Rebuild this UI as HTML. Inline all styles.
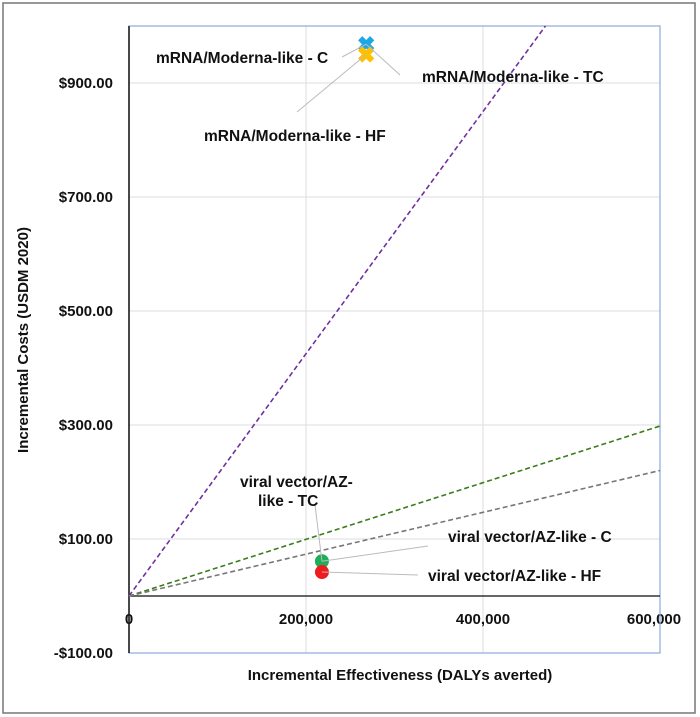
<!DOCTYPE html>
<html><head><meta charset="utf-8"><style>
body{margin:0;background:#fff;}
svg{display:block;font-family:"Liberation Sans",sans-serif;}
.t{font-weight:bold;font-size:15px;fill:#111;}
.p{font-weight:bold;font-size:15.5px;fill:#111;}
</style></head><body>
<svg id="c" width="700" height="717">
<rect x="3" y="3" width="692" height="710" fill="#fff" stroke="#777" stroke-width="1.5"/>
<g id="grid"></g><g id="lines"></g><g id="marks"></g><g id="labels"></g>
<text x="400" y="680" text-anchor="middle" class="t">Incremental Effectiveness (DALYs averted)</text>
<text transform="translate(28,340) rotate(-90)" text-anchor="middle" class="t">Incremental Costs (USDM 2020)</text>
</svg>
<script>
const xTicks=[0,200000,400000,600000];
const xTickLabels=["0","200,000","400,000","600,000"];
const yTicks=[-100,100,300,500,700,900];
const yTickLabels=["-$100.00","$100.00","$300.00","$500.00","$700.00","$900.00"];
const thresholdNames=["purple-threshold","green-threshold","gray-threshold"];
const thresholdSlopes=[0.002125,0.000497,0.000367];
const thresholdColors=["#7030a0","#3a7d1a","#777"];
const pointNames=["mRNA/Moderna-like - C","mRNA/Moderna-like - HF","viral vector/AZ-like - C","viral vector/AZ-like - HF"];
const pointX=[268000,268000,218000,218000];
const pointY=[968,950,61,42];
const pointColors=["#1ca8e6","#ffc000","#1fae5a","#ee1c1c"];
const pointShapes=["x","x","o","o"];
const L=129,R=660,T=26,B=653;
const xs=v=>L+v/600000*(R-L);
const ys=v=>B-(v+100)/1100*(B-T);
const NS="http://www.w3.org/2000/svg";
function mk(p,tag,a){const e=document.createElementNS(NS,tag);for(const k in a)e.setAttribute(k,a[k]);p.appendChild(e);return e;}
const g=document.getElementById('grid');
xTicks.forEach((v,i)=>{if(v>0&&v<600000){const l=mk(g,'line',{x1:xs(v),x2:xs(v),y1:T,y2:B,stroke:'#ddd'});}
const t=mk(g,'text',{x:xs(v)+(i==3?-6:0),y:ys(0)+28,'text-anchor':'middle','class':'t'});t.textContent=xTickLabels[i];
});
yTicks.forEach((v,i)=>{if(v>-100){const l=mk(g,'line',{x1:L,x2:R,y1:ys(v),y2:ys(v),stroke:'#ddd'});}
const t=mk(g,'text',{x:L-16,y:ys(v)+5,'text-anchor':'end','class':'t'});t.textContent=yTickLabels[i];
});
const pa=mk(g,'rect',{x:L,y:T,width:R-L,height:B-T,fill:'none',stroke:'#8eaadb','stroke-width':1.2});

const ya=mk(g,'line',{x1:L,x2:L,y1:T,y2:B,stroke:'#111','stroke-width':1.5});

const xa=mk(g,'line',{x1:L,x2:R,y1:ys(0),y2:ys(0),stroke:'#333','stroke-width':1.5});

const lg=document.getElementById('lines');
thresholdSlopes.forEach((s,i)=>{let x2=600000,y2=s*600000;if(y2>1000){y2=1000;x2=1000/s;}
const l=mk(lg,'line',{x1:xs(0),y1:ys(0),x2:xs(x2),y2:ys(y2),stroke:thresholdColors[i],'stroke-width':1.6,'stroke-dasharray':'5,3'});
});
const lb=document.getElementById('labels');
const leaders=[[342,57],[400,75],[297,112],[315,505],[428,546],[418,575]];
const leaderPt=[0,0,1,2,2,3];
leaders.forEach((d,i)=>{const p=leaderPt[i];const l=mk(lb,'line',{x1:d[0],y1:d[1],x2:xs(pointX[p]),y2:ys(pointY[p]),stroke:'#bbb','stroke-width':1});
});
const texts=[["mRNA/Moderna-like - C",156,63],["mRNA/Moderna-like - TC",422,82],["mRNA/Moderna-like - HF",204,141],["viral vector/AZ-",240,487],["like - TC",258,506],["viral vector/AZ-like - C",448,542],["viral vector/AZ-like - HF",428,581]];
texts.forEach(d=>{const t=mk(lb,'text',{x:d[1],y:d[2],'class':'p'});t.textContent=d[0];
});
const mg=document.getElementById('marks');
pointX.forEach((v,i)=>{const cx=xs(v),cy=ys(pointY[i]);let e;
if(pointShapes[i]=='x'){e=mk(mg,'path',{d:`M${cx-6},${cy-6}L${cx+6},${cy+6}M${cx+6},${cy-6}L${cx-6},${cy+6}`,stroke:pointColors[i],'stroke-width':6});}
else{e=mk(mg,'circle',{cx:cx,cy:cy,r:7,fill:pointColors[i]});}
});
</script>
</body></html>
